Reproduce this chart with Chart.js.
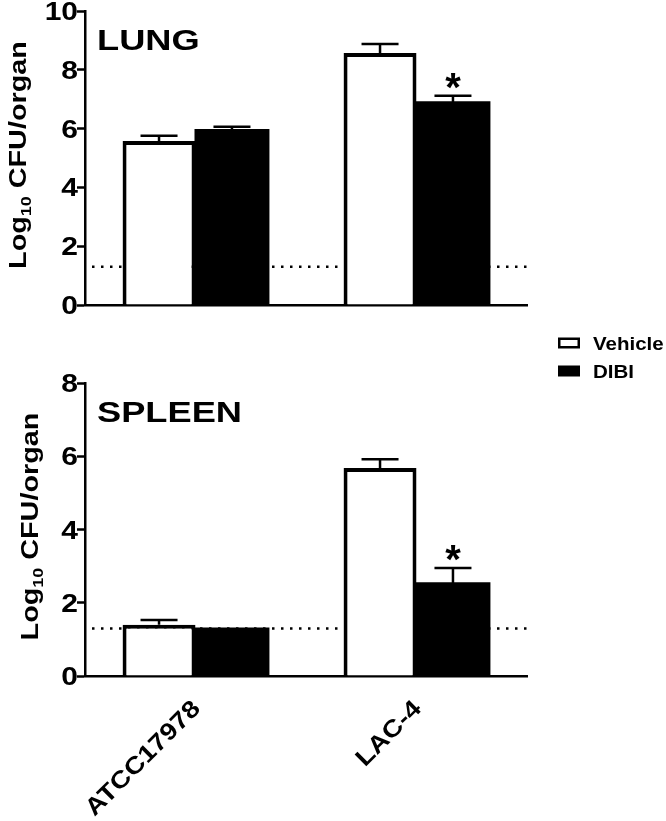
<!DOCTYPE html>
<html><head><meta charset="utf-8">
<script src="https://cdn.jsdelivr.net/npm/chart.js@4.4.1/dist/chart.umd.min.js"></script>
<style>
html,body{margin:0;padding:0;background:#fff;}
#wrap{position:relative;width:666px;height:821px;}
canvas{position:absolute;left:0;top:0;}
</style></head><body>
<div id="wrap"><canvas id="lung" width="666" height="821"></canvas><canvas id="spleen" width="666" height="821"></canvas></div>
<script>
const categories = ['ATCC17978', 'LAC-4'];
const seriesNames = ['Vehicle', 'DIBI'];
const lungVehicle = [5.58, 8.57];
const lungVehicleErr = [0.18, 0.31];
const lungDIBI = [5.95, 6.9];
const lungDIBIErr = [0.11, 0.22];
const lungSig = [false, true];
const spleenVehicle = [1.4, 5.68];
const spleenVehicleErr = [0.13, 0.24];
const spleenDIBI = [1.3, 2.53];
const spleenDIBIErr = [0, 0.42];
const spleenSig = [false, true];
const lungTicks = [0, 2, 4, 6, 8, 10];
const spleenTicks = [0, 2, 4, 6, 8];
const detectionLimit = 1.3;

const FONT = '"Liberation Sans", Arial, Helvetica, sans-serif';
function txt(ctx, s, x, y, o) {
  ctx.save();
  ctx.translate(x, y);
  if (o.rot) ctx.rotate(o.rot);
  ctx.scale(o.sx || 1, 1);
  ctx.font = (o.weight || 'bold') + ' ' + o.size + 'px ' + FONT;
  ctx.fillStyle = '#000';
  ctx.textAlign = o.align || 'left';
  ctx.textBaseline = 'alphabetic';
  let dy = 0;
  if (o.vc) { const m = ctx.measureText(s); dy = (m.actualBoundingBoxAscent - m.actualBoundingBoxDescent) / 2; }
  ctx.fillText(s, 0, dy);
  ctx.restore();
}
function yTitle(ctx, cx, cy, size, sx) {
  const parts = [['Log', size, 0], ['10', size * 0.62, size * 0.22], [' CFU/organ', size, 0]];
  ctx.save(); ctx.translate(cx, cy); ctx.rotate(-Math.PI / 2); ctx.scale(sx, 1);
  ctx.fillStyle = '#000'; ctx.textBaseline = 'alphabetic'; ctx.textAlign = 'left';
  let total = 0; const w = [];
  parts.forEach(p => { ctx.font = 'bold ' + p[1] + 'px ' + FONT; const ww = ctx.measureText(p[0]).width; w.push(ww); total += ww; });
  let x = -total / 2;
  parts.forEach((p, i) => { ctx.font = 'bold ' + p[1] + 'px ' + FONT; ctx.fillText(p[0], x, p[2]); x += w[i]; });
  ctx.restore();
}

function panelPlugin(o) {
  return {
    id: 'panel_' + o.name,
    beforeDatasetsDraw(chart) {
      const ctx = chart.ctx, a = chart.chartArea, y = chart.scales.y.getPixelForValue(detectionLimit);
      ctx.save(); ctx.strokeStyle = '#000'; ctx.lineWidth = 2.5; ctx.setLineDash([2.5, 6.5]);
      ctx.beginPath(); ctx.moveTo(a.left + 7, y); ctx.lineTo(a.right, y); ctx.stroke(); ctx.restore();
    },
    afterDatasetsDraw(chart) {
      const ctx = chart.ctx, ys = chart.scales.y;
      [[o.vehicle, o.vehicleErr, null], [o.dibi, o.dibiErr, o.sig]].forEach((pair, di) => {
        const meta = chart.getDatasetMeta(di);
        meta.data.forEach((bar, i) => {
          const e = pair[1][i];
          let top = bar.y;
          if (e) {
            top = ys.getPixelForValue(pair[0][i] + e);
            ctx.save(); ctx.strokeStyle = '#000'; ctx.lineWidth = 2.5; ctx.beginPath();
            ctx.moveTo(bar.x, bar.y); ctx.lineTo(bar.x, top);
            ctx.moveTo(bar.x - 18.5, top); ctx.lineTo(bar.x + 18.5, top);
            ctx.stroke(); ctx.restore();
          }
          if (pair[2] && pair[2][i]) txt(ctx, '*', bar.x, top - 15, { size: 40, align: 'center', vc: true });
        });
      });
    },
    afterDraw(chart) {
      const ctx = chart.ctx, a = chart.chartArea, ys = chart.scales.y, xs = chart.scales.x;
      ys.ticks.forEach(t => {
        txt(ctx, String(t.label), a.left - 7, ys.getPixelForValue(t.value), { size: 25, align: 'right', sx: 1.2, vc: true });
      });
      txt(ctx, o.title, 97, o.titleBaseline, { size: 29, sx: 1.25 });
      yTitle(ctx, o.ytx, (a.top + a.bottom) / 2 - 3, 24, 1.2);
      if (o.xlabels) {
        categories.forEach((c, i) => {
          txt(ctx, xs.getLabelForValue(i), xs.getPixelForTick(i), a.bottom + 28, { size: 24, align: 'right', rot: -Math.PI / 4, sx: 1.15, vc: true });
        });
      }
      if (o.legend) {
        const ds = chart.data.datasets;
        const rows = [343, 371];
        ds.forEach((d, i) => {
          const yc = rows[i];
          ctx.save();
          if (d.backgroundColor === '#fff') {
            ctx.fillStyle = '#fff'; ctx.fillRect(558, yc - 5.5, 22, 11);
            ctx.strokeStyle = '#000'; ctx.lineWidth = 2.5; ctx.strokeRect(559.25, yc - 4.25, 19.5, 8.5);
          } else {
            ctx.fillStyle = '#000'; ctx.fillRect(558, yc - 5.5, 22, 11);
          }
          ctx.restore();
          txt(ctx, d.label, 593, yc, { size: 18, sx: 1.14, vc: true });
        });
      }
    }
  };
}

function makePanel(id, o) {
  return new Chart(document.getElementById(id), {
    type: 'bar',
    data: {
      labels: categories,
      datasets: [
        { label: seriesNames[0], data: o.vehicle, backgroundColor: '#fff', borderColor: '#000', borderWidth: 4, inflateAmount: 0 },
        { label: seriesNames[1], data: o.dibi, backgroundColor: '#000', borderColor: '#000', borderWidth: 0, inflateAmount: 1 }
      ]
    },
    options: {
      responsive: false, animation: false, devicePixelRatio: 1,
      layout: { padding: o.padding },
      datasets: { bar: { categoryPercentage: 0.66, barPercentage: 1 } },
      plugins: { legend: { display: false }, tooltip: { enabled: false } },
      scales: {
        x: {
          type: 'category', offset: true, z: 1,
          grid: { display: false }, ticks: { display: false },
          border: { display: true, color: '#000', width: 2.5 },
          afterFit: s => { s.height = 0; }
        },
        y: {
          min: 0, max: o.max, z: 1,
          afterBuildTicks: s => { s.ticks = o.ticks.map(v => ({ value: v })); },
          ticks: { display: false },
          grid: { display: true, drawOnChartArea: false, drawTicks: true, tickLength: 8, tickWidth: 2.5, tickColor: '#000', color: '#000' },
          border: { display: true, color: '#000', width: 2.5 },
          afterFit: s => { s.width = 85; }
        }
      }
    },
    plugins: [panelPlugin(o)]
  });
}

makePanel('lung', {
  name: 'lung', vehicle: lungVehicle, vehicleErr: lungVehicleErr, dibi: lungDIBI, dibiErr: lungDIBIErr, sig: lungSig,
  ticks: lungTicks, max: 10, padding: { left: 0, right: 139, top: 11, bottom: 516 },
  title: 'LUNG', titleBaseline: 50, ytx: 26, xlabels: false, legend: false
});
makePanel('spleen', {
  name: 'spleen', vehicle: spleenVehicle, vehicleErr: spleenVehicleErr, dibi: spleenDIBI, dibiErr: spleenDIBIErr, sig: spleenSig,
  ticks: spleenTicks, max: 8, padding: { left: 0, right: 139, top: 383, bottom: 145 },
  title: 'SPLEEN', titleBaseline: 422, ytx: 38, xlabels: true, legend: true
});
</script>
</body></html>
